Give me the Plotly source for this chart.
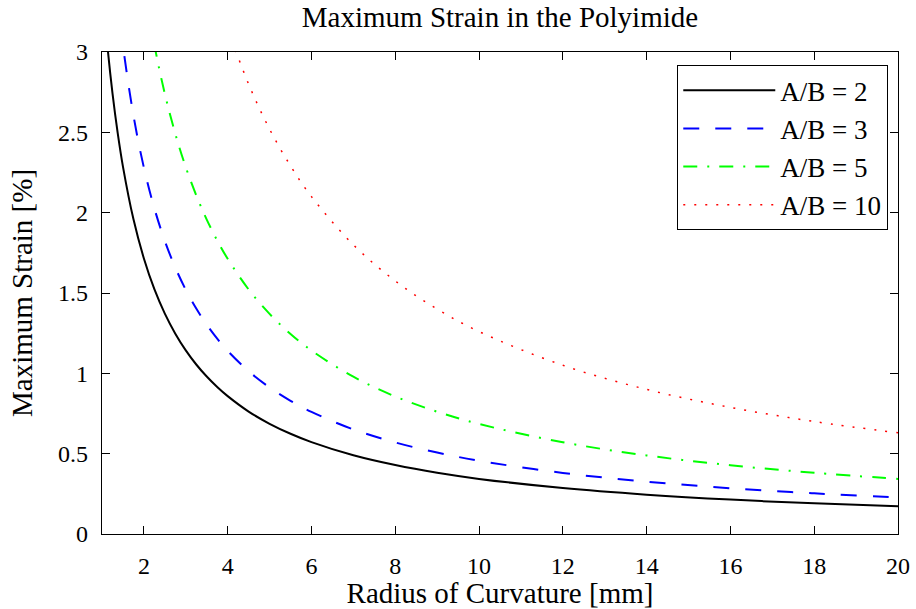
import plotly.graph_objects as go

# Radius of curvature [mm] sample points
radius = [1.0, 1.125, 1.25, 1.375, 1.5, 1.75, 2.0, 2.25, 2.5, 2.75, 3.0, 3.25, 3.5, 3.75,
          4.0, 4.5, 5.0, 5.5, 6.0, 7.0, 8.0, 9.0, 10.0, 12.0, 14.0, 16.0, 18.0, 20.0]

# Maximum strain [%]
strain_ab2 = [3.43, 3.049, 2.744, 2.495, 2.287, 1.960, 1.715, 1.524, 1.372, 1.247, 1.143,
              1.055, 0.980, 0.915, 0.858, 0.762, 0.686, 0.624, 0.572, 0.490, 0.429, 0.381,
              0.343, 0.286, 0.245, 0.214, 0.191, 0.172]
strain_ab3 = [4.56, 4.053, 3.648, 3.316, 3.04, 2.606, 2.28, 2.027, 1.824, 1.658, 1.52,
              1.403, 1.303, 1.216, 1.14, 1.013, 0.912, 0.829, 0.76, 0.651, 0.57, 0.507,
              0.456, 0.38, 0.326, 0.285, 0.253, 0.228]
strain_ab5 = [6.85, 6.089, 5.48, 4.982, 4.567, 3.914, 3.425, 3.044, 2.74, 2.491, 2.283,
              2.108, 1.957, 1.827, 1.713, 1.522, 1.37, 1.245, 1.142, 0.979, 0.856, 0.761,
              0.685, 0.571, 0.489, 0.428, 0.381, 0.343]
strain_ab10 = [12.6, 11.2, 10.08, 9.164, 8.4, 7.2, 6.3, 5.6, 5.04, 4.582, 4.2,
               3.877, 3.6, 3.36, 3.15, 2.8, 2.52, 2.291, 2.1, 1.8, 1.575, 1.4,
               1.26, 1.05, 0.9, 0.788, 0.7, 0.63]

series_names = ["A/B = 2", "A/B = 3", "A/B = 5", "A/B = 10"]
x_ticks = [2, 4, 6, 8, 10, 12, 14, 16, 18, 20]
y_ticks = [0, 0.5, 1, 1.5, 2, 2.5, 3]

FONT = "Liberation Serif"
TICK_SIZE = 24
LABEL_SIZE = 29
TITLE_SIZE = 29
LEGEND_SIZE = 27

fig = go.Figure()
styles = [
    dict(color="black", width=2, dash="solid"),
    dict(color="blue", width=2, dash="16px,16px"),
    dict(color="#00ff00", width=2, dash="14px,10px,2px,10px"),
    dict(color="red", width=1.5, dash="2px,9px"),
]
for name, ys, st in zip(series_names, [strain_ab2, strain_ab3, strain_ab5, strain_ab10], styles):
    fig.add_trace(go.Scatter(x=radius, y=ys, mode="lines", name=name,
                             line=dict(shape="spline", smoothing=1.0, **st)))

axis_common = dict(
    showline=True, linecolor="black", linewidth=1.3, mirror="ticks",
    ticks="inside", ticklen=8, tickwidth=1.3, tickcolor="black",
    showgrid=False, zeroline=False, automargin=False,
    tickfont=dict(family=FONT, size=TICK_SIZE, color="black"),
)

fig.update_layout(
    width=916, height=609,
    margin=dict(l=102, r=18, t=52, b=75),
    paper_bgcolor="white", plot_bgcolor="white",
    font=dict(family=FONT, size=LABEL_SIZE, color="black"),
    title=dict(text="Maximum Strain in the Polyimide", x=0.5, xref="paper",
               y=1 - 17 / 609, yref="container", yanchor="middle",
               font=dict(family=FONT, size=TITLE_SIZE, color="black")),
    xaxis=dict(range=[1, 20], tickvals=x_ticks, ticktext=[str(v) for v in x_ticks],
               ticklabelstandoff=10,
               title=dict(text="Radius of Curvature [mm]", standoff=4,
                          font=dict(family=FONT, size=LABEL_SIZE)), **axis_common),
    yaxis=dict(range=[0, 3], tickvals=y_ticks, ticktext=[str(v) for v in y_ticks],
               ticklabelstandoff=8,
               title=dict(text="Maximum Strain [%]", standoff=16,
                          font=dict(family=FONT, size=LABEL_SIZE)), **axis_common),
    legend=dict(x=0.9874, y=0.973, xanchor="right", yanchor="top",
                bgcolor="white", bordercolor="black", borderwidth=1.3,
                font=dict(family=FONT, size=LEGEND_SIZE, color="black"),
                itemwidth=92),
    showlegend=True,
)

# remove the browser's default 8px body margin so the figure fills the window
fig.write_html("out.html", config={"displayModeBar": False},
               post_script="document.body.style.margin='0';")
